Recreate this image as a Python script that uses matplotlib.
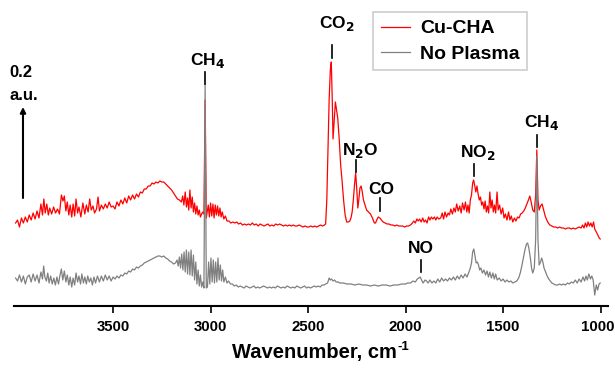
import matplotlib
matplotlib.use("Agg")
import matplotlib.pyplot as plt
import matplotlib.transforms as mtransforms
import numpy as np

plt.rcParams['font.family'] = ['Liberation Sans', 'DejaVu Sans']
plt.rcParams['font.weight'] = 'bold'
plt.rcParams['mathtext.default'] = 'bf'

# Cu-CHA spectrum (wavenumber, cm-1 / absorbance, scale: 91 units = 0.2 a.u.)
cu_wn = [
    4000, 3990, 3980, 3970, 3960, 3950, 3940, 3930, 3920, 3910,
    3900, 3890, 3880, 3870, 3862, 3855, 3848, 3840, 3832, 3825,
    3815, 3805, 3795, 3785, 3775, 3765, 3757, 3750, 3742, 3735,
    3727, 3720, 3712, 3705, 3697, 3690, 3682, 3675, 3665, 3655,
    3645, 3637, 3628, 3620, 3612, 3603, 3595, 3585, 3577, 3570,
    3560, 3550, 3540, 3530, 3520, 3510, 3500, 3490, 3480, 3470,
    3460, 3450, 3440, 3430, 3420, 3410, 3400, 3390, 3380, 3370,
    3360, 3350, 3340, 3330, 3320, 3310, 3300, 3290, 3280, 3270,
    3260, 3250, 3240, 3230, 3220, 3210, 3200, 3190, 3180, 3170,
    3160, 3150, 3143, 3137, 3130, 3124, 3118, 3112, 3106, 3100,
    3094, 3088, 3082, 3076, 3070, 3064, 3058, 3052, 3046, 3040,
    3034, 3028, 3022, 3012, 3006, 3000, 2994, 2988, 2982, 2976,
    2970, 2964, 2958, 2952, 2946, 2940, 2932, 2924, 2916, 2906,
    2896, 2886, 2876, 2866, 2856, 2846, 2836, 2826, 2816, 2806,
    2796, 2786, 2776, 2766, 2756, 2746, 2736, 2726, 2716, 2706,
    2696, 2686, 2676, 2666, 2656, 2646, 2636, 2626, 2616, 2606,
    2596, 2586, 2576, 2566, 2556, 2546, 2536, 2526, 2516, 2506,
    2496, 2486, 2476, 2466, 2456, 2446, 2436, 2426, 2416, 2410,
    2404, 2398, 2392, 2386, 2381, 2376, 2372, 2366, 2360, 2354,
    2348, 2340, 2333, 2326, 2318, 2310, 2302, 2294, 2286, 2280,
    2274, 2268, 2262, 2256, 2250, 2245, 2240, 2234, 2228, 2222,
    2216, 2208, 2200, 2190, 2180, 2170, 2160, 2154, 2148, 2140,
    2132, 2124, 2115, 2105, 2095, 2085, 2075, 2065, 2055, 2045,
    2035, 2025, 2015, 2005, 1995, 1985, 1975, 1965, 1958, 1950,
    1942, 1935, 1928, 1920, 1912, 1905, 1898, 1890, 1882, 1875,
    1868, 1860, 1852, 1845, 1838, 1830, 1820, 1812, 1805, 1798,
    1790, 1782, 1775, 1768, 1760, 1752, 1745, 1738, 1730, 1722,
    1715, 1708, 1700, 1693, 1686, 1680, 1674, 1668, 1662, 1656,
    1651, 1645, 1640, 1634, 1628, 1622, 1616, 1610, 1604, 1598,
    1592, 1586, 1580, 1574, 1568, 1562, 1556, 1550, 1544, 1538,
    1531, 1525, 1518, 1510, 1502, 1495, 1488, 1480, 1472, 1465,
    1458, 1450, 1442, 1434, 1426, 1418, 1410, 1402, 1394, 1386,
    1378, 1370, 1363, 1356, 1348, 1340, 1333, 1327, 1321, 1315,
    1308, 1300, 1292, 1284, 1276, 1268, 1260, 1250, 1240, 1230,
    1220, 1210, 1200, 1190, 1180, 1170, 1160, 1150, 1140, 1130,
    1120, 1110, 1100, 1092, 1085, 1078, 1071, 1064, 1057, 1050,
    1043, 1036, 1030, 1022, 1014, 1007, 1002,
]
cu_abs = [
    -7, -4, -11, -2, -7, -1, -6, 1, -4, 3,
    -3, 5, -2, 12, 1, 17, 3, 12, 1, 8,
    2, 9, 3, 7, 2, 21, 15, 20, 5, 14,
    1, 11, -1, 12, 0, 17, 3, 9, -1, 13,
    2, 11, 4, 17, 6, 10, 3, 7, 19, 5,
    11, 7, 12, 8, 14, 9, 10, 7, 14, 10,
    16, 12, 18, 13, 20, 16, 21, 17, 22, 19,
    24, 23, 27, 27, 30, 30, 33, 32, 34, 33,
    35, 34, 34, 32, 30, 28, 26, 23, 20, 17,
    16, 14, 20, 11, 24, 9, 18, 6, 26, 8,
    19, 4, 13, 2, 10, 1, 6, -1, 2, 4,
    2, 116, -2, 11, -1, 13, 0, 12, -2, 11,
    1, 10, 0, 8, -1, 4, -3, 0, -5, -5,
    -7, -6, -7, -6, -8, -7, -9, -8, -9, -8,
    -9, -7, -9, -8, -10, -8, -9, -10, -9, -8,
    -10, -9, -10, -8, -9, -8, -9, -10, -9, -10,
    -9, -10, -9, -10, -10, -9, -10, -11, -10, -11,
    -11, -10, -11, -10, -11, -10, -9, -10, -9, -8,
    16, 66, 116, 146, 154, 116, 77, 96, 114, 106,
    98, 76, 51, 36, 16, 1, -6, -6, -5, -2,
    4, 16, 31, 43, 26, 8, 16, 28, 30, 24,
    16, 11, 6, 4, 2, -2, -7, -7, -4, -1,
    -2, -4, -6, -7, -8, -8, -9, -9, -10, -9,
    -10, -10, -10, -11, -10, -10, -9, -7, -5, -7,
    -3, -5, -3, -6, -2, -6, -4, -7, -1, -4,
    -1, -3, -1, -4, -1, -3, -2, 3, -3, 4,
    -1, 3, 1, 7, 2, 8, 4, 12, 5, 10,
    3, 13, 6, 14, 4, 11, 3, 16, 21, 33,
    36, 30, 24, 30, 22, 16, 19, 11, 14, 7,
    15, 4, 10, 3, 24, 8, 16, 4, 11, 3,
    24, 6, 11, 2, 8, -2, 2, -4, 4, -4,
    0, -6, -2, -5, -1, -2, 2, 3, 5, 8,
    12, 16, 20, 14, 6, 4, 21, 66, 16, 6,
    10, 12, 6, 0, -4, -7, -9, -10, -11, -11,
    -12, -11, -12, -12, -13, -12, -12, -13, -12, -13,
    -12, -11, -12, -9, -12, -7, -11, -6, -10, -7,
    -11, -6, -13, -16, -19, -22, -23,
]

# No Plasma spectrum
np_wn = [
    4000, 3990, 3980, 3970, 3960, 3950, 3940, 3930, 3920, 3910,
    3900, 3890, 3880, 3870, 3862, 3856, 3850, 3842, 3835, 3828,
    3820, 3812, 3804, 3796, 3788, 3780, 3772, 3765, 3758, 3750,
    3742, 3735, 3727, 3720, 3712, 3705, 3697, 3690, 3682, 3675,
    3667, 3660, 3652, 3645, 3637, 3630, 3622, 3614, 3606, 3598,
    3590, 3580, 3570, 3560, 3550, 3540, 3530, 3520, 3510, 3500,
    3490, 3480, 3470, 3460, 3450, 3440, 3430, 3420, 3410, 3400,
    3390, 3380, 3370, 3360, 3350, 3340, 3330, 3320, 3310, 3300,
    3290, 3280, 3270, 3260, 3250, 3240, 3230, 3220, 3210, 3200,
    3190, 3180, 3172, 3166, 3160, 3154, 3148, 3142, 3136, 3130,
    3124, 3118, 3112, 3106, 3100, 3094, 3088, 3082, 3076, 3070,
    3064, 3058, 3052, 3046, 3040, 3034, 3028, 3022, 3016, 3010,
    3004, 2998, 2992, 2986, 2980, 2974, 2968, 2962, 2956, 2950,
    2944, 2938, 2932, 2924, 2916, 2908, 2898, 2888, 2878, 2868,
    2858, 2848, 2838, 2828, 2818, 2808, 2798, 2788, 2778, 2768,
    2758, 2748, 2738, 2728, 2718, 2708, 2698, 2688, 2678, 2668,
    2658, 2648, 2638, 2628, 2618, 2608, 2598, 2588, 2578, 2568,
    2558, 2548, 2538, 2528, 2518, 2508, 2498, 2488, 2478, 2468,
    2458, 2448, 2438, 2428, 2418, 2410, 2400, 2392, 2386, 2380,
    2372, 2364, 2356, 2346, 2336, 2320, 2300, 2280, 2260, 2240,
    2220, 2200, 2180, 2160, 2140, 2120, 2100, 2080, 2060, 2040,
    2020, 2000, 1990, 1975, 1962, 1950, 1940, 1932, 1925, 1918,
    1910, 1900, 1892, 1885, 1875, 1865, 1855, 1845, 1835, 1825,
    1815, 1805, 1795, 1785, 1775, 1765, 1755, 1745, 1735, 1725,
    1715, 1705, 1695, 1685, 1675, 1668, 1662, 1656, 1650, 1644,
    1638, 1632, 1626, 1620, 1614, 1606, 1598, 1590, 1582, 1575,
    1568, 1560, 1552, 1545, 1538, 1530, 1520, 1510, 1500, 1490,
    1480, 1470, 1460, 1450, 1440, 1430, 1420, 1412, 1404, 1396,
    1388, 1380, 1374, 1368, 1360, 1354, 1348, 1340, 1333, 1327,
    1321, 1315, 1308, 1302, 1296, 1290, 1282, 1274, 1266, 1258,
    1250, 1240, 1230, 1220, 1210, 1200, 1190, 1180, 1170, 1160,
    1150, 1140, 1130, 1120, 1110, 1100, 1090, 1082, 1075, 1068,
    1060, 1052, 1045, 1038, 1030, 1022, 1015, 1008, 1002,
]
np_abs = [
    10, 7, 13, 6, 12, 4, 11, 13, 6, 14,
    7, 13, 5, 16, 9, 22, 11, 7, 15, 5,
    12, 4, 10, 3, 11, 4, 13, 19, 8, 17,
    6, 13, 3, 11, 1, 10, 3, 15, 6, 12,
    4, 14, 5, 11, 4, 12, 6, 10, 3, 11,
    5, 12, 6, 12, 7, 13, 8, 12, 7, 11,
    9, 12, 10, 13, 12, 15, 14, 17, 16, 19,
    18, 21, 20, 22, 23, 25, 26, 27, 28, 29,
    30, 31, 32, 32, 31, 32, 30, 29, 27, 26,
    24, 25, 28, 22, 31, 20, 34, 18, 36, 16,
    38, 14, 36, 13, 38, 12, 33, 8, 26, 4,
    18, 2, 13, 1, 6, 0, 204, 0, 1, 26,
    4, 30, 6, 28, 5, 26, 6, 30, 8, 23,
    7, 18, 6, 11, 5, 7, 4, 4, 2, 3,
    1, 2, 1, 0, 2, 1, 0, 1, 2, 0,
    1, 0, 1, 2, 1, 0, 1, 0, 1, 0,
    2, 1, 0, 1, 0, 2, 1, 0, 1, 0,
    2, 1, 0, 1, 2, 0, 1, 0, 1, 2,
    1, 2, 1, 3, 3, 4, 5, 10, 8, 9,
    7, 8, 6, 6, 5, 5, 4, 4, 3, 4,
    3, 3, 2, 3, 2, 3, 3, 2, 3, 3,
    4, 4, 5, 5, 7, 6, 9, 10, 11, 8,
    5, 8, 7, 5, 8, 5, 7, 5, 9, 6,
    10, 7, 9, 7, 10, 8, 11, 8, 12, 9,
    13, 10, 14, 11, 16, 20, 25, 36, 39, 32,
    25, 26, 23, 18, 20, 15, 18, 13, 17, 11,
    16, 10, 15, 9, 14, 8, 10, 7, 9, 6,
    8, 6, 7, 5, 6, 7, 10, 15, 22, 30,
    38, 44, 45, 40, 30, 20, 15, 20, 48, 132,
    48, 23, 26, 30, 26, 20, 16, 12, 9, 7,
    5, 4, 3, 3, 4, 3, 4, 3, 5, 4,
    6, 5, 8, 5, 9, 6, 11, 7, 12, 8,
    14, 9, 12, 8, -7, 3, -2, 4, 5,
]

cu_offset = 72
scale_units = 91  # length of the 0.2 a.u. bar

# peak labels: text, label x, text baseline y, tick x, tick bottom, tick top
labels = [
    ("CH$_4$", 3013, 223, 3028, 204, 216),
    ("CO$_2$", 2351, 260, 2377, 230, 243),
    ("N$_2$O", 2233, 133, 2254, 116, 128),
    ("CO", 2123, 94, 2131, 77, 90),
    ("NO", 1921, 35, 1921, 16, 28),
    ("NO$_2$", 1628, 131, 1649, 112, 124),
    ("CH$_4$", 1300, 161, 1326, 141, 153),
]

fig = plt.figure(figsize=(6.15, 3.72), dpi=100)
ax = fig.add_axes([0.0228, 0.1774, 0.9658, 0.8226])

ax.plot(cu_wn, np.array(cu_abs) + cu_offset, color='#ff0000', lw=0.9, label='Cu-CHA')
ax.plot(np_wn, np_abs, color='#808080', lw=0.9, label='No Plasma')

for txt, tx, ty, kx, k0, k1 in labels:
    ax.text(tx, ty, txt, ha='center', va='baseline', fontsize=12.5, fontweight='bold')
    ax.plot([kx, kx], [k0, k1], color='black', lw=1.2)

# scale bar
ax.annotate('', xy=(3962, 90 + scale_units), xytext=(3962, 90),
            arrowprops=dict(arrowstyle='-|>', color='black', lw=1.5, mutation_scale=8,
                            shrinkA=0, shrinkB=0))
ax.text(4033, 211, '0.2', ha='left', va='baseline', fontsize=12, fontweight='bold')
ax.text(4033, 188, 'a.u.', ha='left', va='baseline', fontsize=12, fontweight='bold')

ax.set_xlim(4008, 962)
ax.set_ylim(-18, 288)
ax.set_xticks([3500, 3000, 2500, 2000, 1500, 1000])
ax.set_yticks([])
for s in ['top', 'right', 'left']:
    ax.spines[s].set_visible(False)
ax.spines['bottom'].set_linewidth(1.5)
ax.tick_params(axis='x', direction='out', length=5, width=1.2, pad=5, labelsize=10.8)
for lab in ax.get_xticklabels():
    lab.set_fontweight('bold')
# keep the last label inside the canvas
last = ax.get_xticklabels()[-1]
last.set_transform(last.get_transform() +
                   mtransforms.ScaledTranslation(-3 / 100, 0, fig.dpi_scale_trans))

# x label with a small hyphen superscript, as in the original
xl = fig.text(232 / 615, 1 - 358 / 372, 'Wavenumber, cm', ha='left', va='baseline',
              fontsize=14.5, fontweight='bold')
fig.canvas.draw()
bb = xl.get_window_extent(fig.canvas.get_renderer())
fig.text((bb.x1 + 1) / fig.bbox.width, 1 - 350 / 372, '-1', ha='left', va='baseline',
         fontsize=9.5, fontweight='bold')

leg = ax.legend(loc='upper right', bbox_to_anchor=(0.864, 0.961), borderaxespad=0,
                fontsize=14, handlelength=1.5, handletextpad=0.5, labelspacing=0.4,
                fancybox=False, edgecolor='#c0c0c0', borderpad=0.4)
leg.get_frame().set_linewidth(1.2)
for t in leg.get_texts():
    t.set_fontweight('bold')

fig.savefig('out.png', dpi=100)
